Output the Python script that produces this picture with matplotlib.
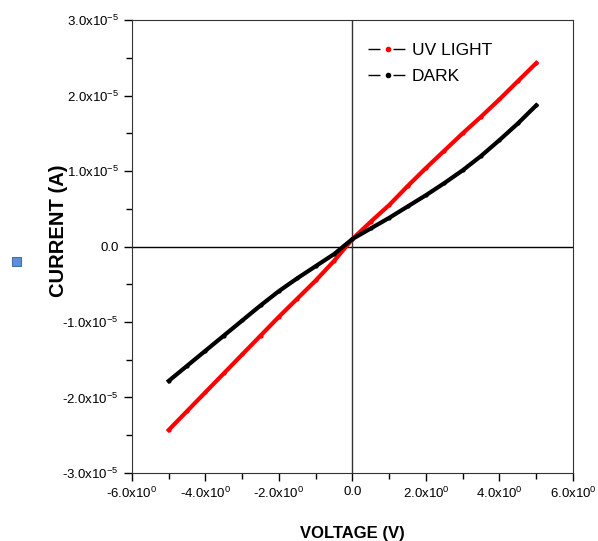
import matplotlib
matplotlib.use("Agg")
import matplotlib.pyplot as plt
from matplotlib.ticker import MultipleLocator, FuncFormatter
from matplotlib.patches import Rectangle

plt.rcParams['font.family'] = ['Liberation Sans', 'DejaVu Sans']
plt.rcParams['mathtext.fontset'] = 'custom'
plt.rcParams['mathtext.rm'] = 'Liberation Sans'
plt.rcParams['axes.unicode_minus'] = False

# voltage (V) and current (A)
voltage = [-5.0, -4.5, -4.0, -3.5, -3.0, -2.5, -2.0, -1.5, -1.0, -0.5, 0.0,
           0.5, 1.0, 1.5, 2.0, 2.5, 3.0, 3.5, 4.0, 4.5, 5.0]
uv_light = [-2.43e-5, -2.18e-5, -1.93e-5, -1.68e-5, -1.43e-5, -1.18e-5, -0.93e-5,
            -0.69e-5, -0.45e-5, -0.19e-5, 0.10e-5, 0.33e-5, 0.55e-5, 0.80e-5,
            1.04e-5, 1.27e-5, 1.50e-5, 1.72e-5, 1.95e-5, 2.19e-5, 2.43e-5]
dark = [-1.78e-5, -1.58e-5, -1.38e-5, -1.18e-5, -0.98e-5, -0.78e-5, -0.59e-5,
        -0.42e-5, -0.26e-5, -0.10e-5, 0.10e-5, 0.24e-5, 0.38e-5, 0.53e-5,
        0.68e-5, 0.84e-5, 1.01e-5, 1.20e-5, 1.41e-5, 1.63e-5, 1.87e-5]

fig = plt.figure(figsize=(5.98, 5.41), dpi=100)
ax = fig.add_axes([0.2207, 0.1257, 0.7375, 0.8373])

ax.plot(voltage, uv_light, color='#ff0000', lw=3, marker='o', ms=2, label='UV LIGHT')
ax.plot(voltage, dark, color='black', lw=3, marker='o', ms=2, label='DARK')

ax.axhline(0, color='black', lw=1, zorder=0)
ax.axvline(0, color='#333333', lw=1, zorder=0)

ax.set_xlim(-6, 6)
ax.set_ylim(-3e-5, 3e-5)
ax.xaxis.set_major_locator(MultipleLocator(2))
ax.xaxis.set_minor_locator(MultipleLocator(1))
ax.yaxis.set_major_locator(MultipleLocator(1e-5))
ax.yaxis.set_minor_locator(MultipleLocator(0.5e-5))


def fmt(exp):
    def f(v, pos):
        m = v / 10 ** exp
        if abs(m) < 1e-9:
            return '0.0'
        return '%.1fx10$^{%d}$' % (m, exp)
    return f


ax.xaxis.set_major_formatter(FuncFormatter(fmt(0)))
ax.yaxis.set_major_formatter(FuncFormatter(fmt(-5)))
ax.tick_params(which='major', direction='out', length=6, width=1, labelsize=9.5)
ax.tick_params(which='minor', direction='out', length=4, width=1)
for s in ax.spines.values():
    s.set_color('#333333')

ax.set_xlabel('VOLTAGE (V)', fontsize=12, fontweight='bold')
ax.xaxis.set_label_coords(0.5, -0.118)
ax.set_ylabel('CURRENT (A)', fontsize=14.5, fontweight='bold')
ax.yaxis.set_label_coords(-0.145, 0.535)

leg = ax.legend(loc='upper left', bbox_to_anchor=(0.5, 0.985), frameon=False,
                fontsize=12.5, handlelength=2.3, handletextpad=0.2, labelspacing=0.65)
for h in leg.legend_handles:
    h.set_linewidth(1)
    h.set_color('black')
    h.set_dashes((8.6, 9.4))
    h.set_markersize(3)
leg.legend_handles[0].set_markerfacecolor('#ff0000')
leg.legend_handles[0].set_markeredgecolor('#ff0000')

fig.patches.append(Rectangle((12 / 598, 1 - 266 / 541), 9 / 598, 9 / 541,
                             transform=fig.transFigure, facecolor='#5b8fdb',
                             edgecolor='#4a6fa5', lw=0.8))

fig.savefig('out.png', dpi=100)
